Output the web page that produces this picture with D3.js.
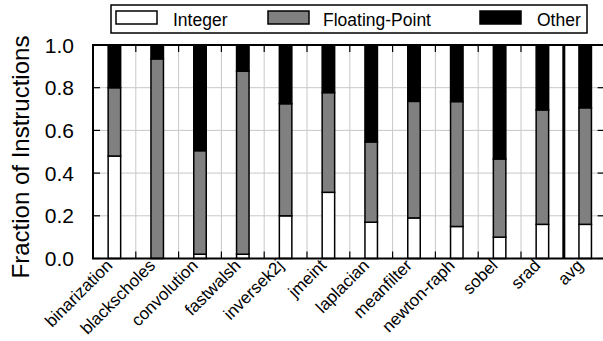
<!DOCTYPE html>
<html>
  <head>
    <meta charset="UTF-8">
    <title>Instruction mix</title>
    <style>
      body { margin: 0; background: #fff; }
      text { font-family: "Liberation Sans", sans-serif; }
    </style>
  </head>
  <body>
    <div id="chart"></div>
    <script src="https://d3js.org/d3.v7.min.js"></script>
    <script>
      let benchmarks = ["binarization", "blackscholes", "convolution", "fastwalsh", "inversek2j", "jmeint",
                        "laplacian", "meanfilter", "newton-raph", "sobel", "srad", "avg"];
      let intFrac   = [0.48, 0.00, 0.02, 0.02, 0.20, 0.31, 0.17, 0.19, 0.15, 0.10, 0.16, 0.16];
      let fpFrac    = [0.32, 0.935, 0.485, 0.857, 0.525, 0.467, 0.376, 0.546, 0.585, 0.366, 0.536, 0.546];
      let otherFrac = intFrac.map((d, i) => +(1 - d - fpFrac[i]).toFixed(3));
      let seriesNames = ["Integer", "Floating-Point", "Other"];
      let seriesColors = ["#ffffff", "#808080", "#000000"];
      let yTicks = [0, 0.2, 0.4, 0.6, 0.8, 1.0];

      let width = 603, height = 341;
      let pLeft = 93, pRight = 606.6, pTop = 45, pBottom = 258.5;

      let svg = d3.select("#chart").append("svg").attr("width", width).attr("height", height);

      let x = d3.scaleBand().domain(benchmarks).range([pLeft, pRight]);
      let y = d3.scaleLinear().domain([0, 1]).range([pBottom, pTop]);
      let barW = 12.5;

      let rows = benchmarks.map((b, i) => ({ name: b, Integer: intFrac[i], "Floating-Point": fpFrac[i], Other: otherFrac[i] }));
      let stacked = d3.stack().keys(seriesNames)(rows);

      // grid
      svg.append("g").selectAll("line")
        .data(yTicks.filter(d => d > 0 && d < 1))
        .enter().append("line")
        .attr("x1", pLeft).attr("x2", pRight)
        .attr("y1", d => y(d)).attr("y2", d => y(d))
        .attr("stroke", "#c8c8c8").attr("stroke-width", 1);

      let bounds = benchmarks.slice(1).map(b => x(b));
      svg.append("g").selectAll("line")
        .data(bounds.slice(0, -1))
        .enter().append("line")
        .attr("x1", d => d).attr("x2", d => d)
        .attr("y1", pTop).attr("y2", pBottom)
        .attr("stroke", "#c8c8c8").attr("stroke-width", 1);

      // bars
      svg.append("g").selectAll("g")
        .data(stacked)
        .enter().append("g")
        .attr("fill", (d, i) => seriesColors[i])
        .selectAll("rect")
        .data(d => d)
        .enter().append("rect")
        .attr("x", d => x(d.data.name) + x.bandwidth() / 2 - barW / 2)
        .attr("width", barW)
        .attr("y", d => y(d[1]))
        .attr("height", d => y(d[0]) - y(d[1]))
        .attr("stroke", "#000")
        .attr("stroke-width", 1.5);

      // separator before avg
      let sep = x("avg");
      svg.append("line")
        .attr("x1", sep).attr("x2", sep).attr("y1", pTop).attr("y2", pBottom)
        .attr("stroke", "#000").attr("stroke-width", 3);

      // ticks on boundaries, top and bottom
      let tk = svg.append("g").attr("stroke", "#000").attr("stroke-width", 1.2);
      bounds.forEach(b => {
        tk.append("line").attr("x1", b).attr("x2", b).attr("y1", pTop).attr("y2", pTop + 7);
        tk.append("line").attr("x1", b).attr("x2", b).attr("y1", pBottom).attr("y2", pBottom - 7);
      });
      yTicks.forEach(t => {
        tk.append("line").attr("x1", pLeft).attr("x2", pLeft + 7).attr("y1", y(t)).attr("y2", y(t));
        tk.append("line").attr("x1", pRight - 3).attr("x2", pRight - 9).attr("y1", y(t)).attr("y2", y(t));
      });

      // frame
      svg.append("path")
        .attr("d", `M${pRight},${pTop}H${pLeft}V${pBottom}H${pRight}`)
        .attr("fill", "none").attr("stroke", "#000").attr("stroke-width", 2);

      // y axis labels
      svg.append("g").selectAll("text")
        .data(yTicks)
        .enter().append("text")
        .attr("x", 74).attr("y", d => y(d))
        .attr("dy", "0.36em")
        .attr("text-anchor", "end")
        .attr("font-size", 21)
        .text(d => d.toFixed(1));

      svg.append("text")
        .attr("transform", `translate(29,157) rotate(-90)`)
        .attr("text-anchor", "middle")
        .attr("font-size", 24)
        .text("Fraction of Instructions");

      // x labels
      svg.append("g").selectAll("text")
        .data(benchmarks)
        .enter().append("text")
        .attr("transform", d => `translate(${x(d) + x.bandwidth() / 2 - 1},${pBottom + 8}) rotate(-45)`)
        .attr("text-anchor", "end")
        .attr("font-size", 17)
        .text(d => d);

      // legend
      let lg = svg.append("g");
      lg.append("rect").attr("x", 111).attr("y", 5).attr("width", 476).attr("height", 28)
        .attr("fill", "#fff").attr("stroke", "#000").attr("stroke-width", 1.5);
      let lgX = [116, 268, 480];
      let lgTextX = [173, 323, 537];
      seriesNames.forEach((s, i) => {
        lg.append("rect").attr("x", lgX[i]).attr("y", 11).attr("width", 41).attr("height", 13)
          .attr("fill", seriesColors[i]).attr("stroke", "#000").attr("stroke-width", 1.5);
        lg.append("text").attr("x", lgTextX[i]).attr("y", 25.5).attr("font-size", 17.5).text(s);
      });
    </script>
  </body>
</html>
